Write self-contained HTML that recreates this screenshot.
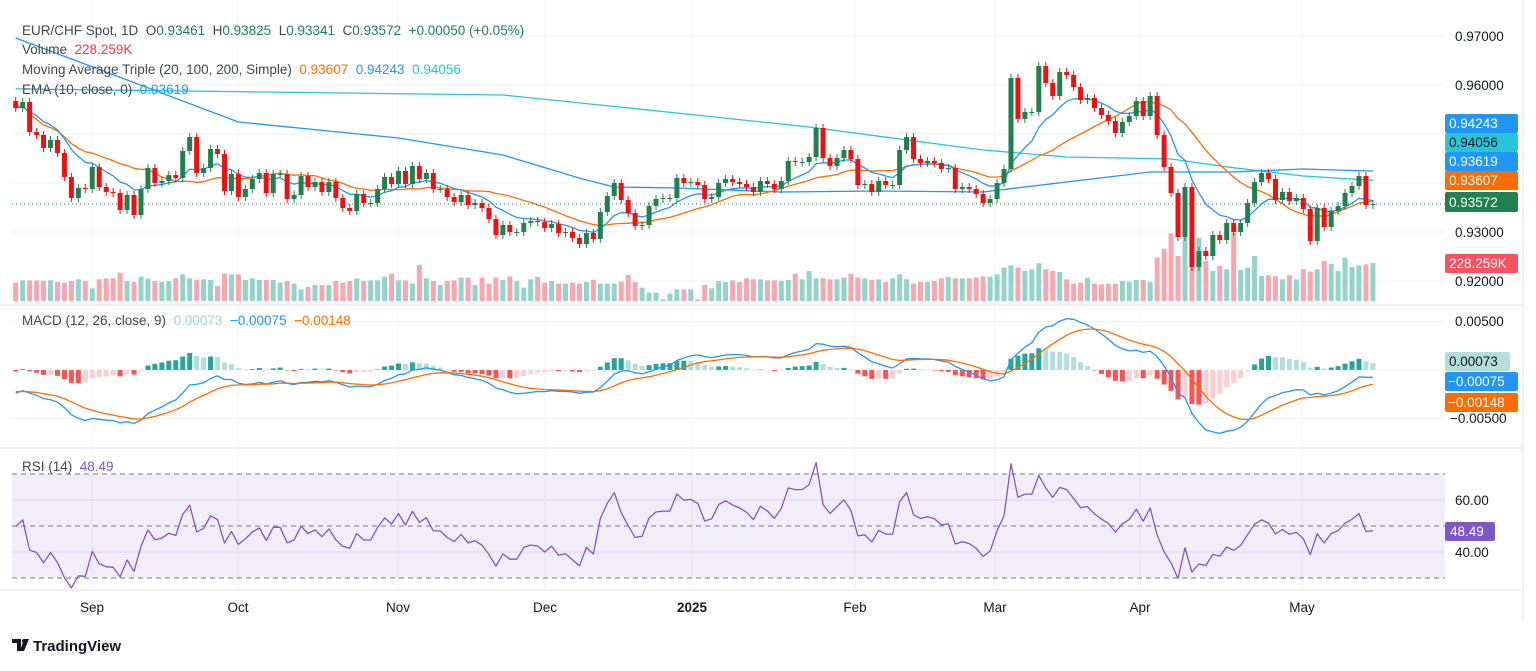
<!DOCTYPE html>
<html><head><meta charset="utf-8">
<style>
html,body{margin:0;padding:0;background:#fff;}
body{width:1536px;height:666px;overflow:hidden;font-family:"Liberation Sans",sans-serif;}
svg text{font-family:"Liberation Sans",sans-serif;}
</style></head>
<body>
<svg id="chart" width="1536" height="666" viewBox="0 0 1536 666" xmlns="http://www.w3.org/2000/svg">
  <rect x="0" y="0" width="1536" height="666" fill="#ffffff"/>
  <g id="grid"></g>
  <rect x="12" y="474" width="1433" height="104" fill="#7e57c2" fill-opacity="0.1"/>
  <line x1="12" y1="474" x2="1445" y2="474" stroke="#787b86" stroke-dasharray="5,4" stroke-width="1"/>
  <line x1="12" y1="526" x2="1445" y2="526" stroke="#787b86" stroke-dasharray="5,4" stroke-width="1"/>
  <line x1="12" y1="578" x2="1445" y2="578" stroke="#787b86" stroke-dasharray="5,4" stroke-width="1"/>
  <line x1="0" y1="305" x2="1523" y2="305" stroke="#e0e3eb"/>
  <line x1="0" y1="448" x2="1523" y2="448" stroke="#e0e3eb"/>
  <line x1="0" y1="590" x2="1523" y2="590" stroke="#e0e3eb"/>
  <line x1="1523" y1="0" x2="1523" y2="622" stroke="#e0e3eb"/>
  <g id="vol"></g>
  <g id="lines"></g>
  <g id="candles"></g>
  <g id="macd"></g>
  <g id="rsi"></g>

  <g font-size="13.5" fill="#434651">
    <text x="22" y="35">EUR/CHF Spot, 1D&#160;&#160;O<tspan fill="#22804f">0.93461</tspan>&#160;&#160;H<tspan fill="#22804f">0.93825</tspan>&#160;&#160;L<tspan fill="#22804f">0.93341</tspan>&#160;&#160;C<tspan fill="#22804f">0.93572</tspan>&#160;&#160;<tspan fill="#22804f">+0.00050 (+0.05%)</tspan></text>
    <text x="22" y="54">Volume&#160;&#160;<tspan fill="#f23645">228.259K</tspan></text>
    <text x="22" y="74">Moving Average Triple (20, 100, 200, Simple)&#160;&#160;<tspan fill="#ff6d00">0.93607</tspan>&#160;&#160;<tspan fill="#2196f3">0.94243</tspan>&#160;&#160;<tspan fill="#26c6da">0.94056</tspan></text>
    <text x="22" y="94">EMA (10, close, 0)&#160;&#160;<tspan fill="#2196f3">0.93619</tspan></text>
    <text x="22" y="325">MACD (12, 26, close, 9)&#160;&#160;<tspan fill="#9bd8cf">0.00073</tspan>&#160;&#160;<tspan fill="#2196f3">−0.00075</tspan>&#160;&#160;<tspan fill="#ff6d00">−0.00148</tspan></text>
    <text x="22" y="471">RSI (14)&#160;&#160;<tspan fill="#7e57c2">48.49</tspan></text>
  </g>

  <g font-size="13.5" fill="#131722">
    <text x="1455" y="41">0.97000</text>
    <text x="1455" y="90">0.96000</text>
    <text x="1455" y="237">0.93000</text>
    <text x="1455" y="286">0.92000</text>
    <text x="1455" y="326">0.00500</text>
    <text x="1450" y="423">−0.00500</text>
    <text x="1455" y="505">60.00</text>
    <text x="1455" y="557">40.00</text>
  </g>

  <g font-size="13.5">
    <rect x="1445" y="114" width="73" height="19" rx="2" fill="#2196f3"/>
    <text x="1449" y="128" fill="#fff">0.94243</text>
    <rect x="1445" y="133" width="73" height="19" rx="2" fill="#26c6da"/>
    <text x="1449" y="147" fill="#131722">0.94056</text>
    <rect x="1445" y="152" width="73" height="19" rx="2" fill="#2196f3"/>
    <text x="1449" y="166" fill="#fff">0.93619</text>
    <rect x="1445" y="171" width="73" height="19" rx="2" fill="#ff6d00"/>
    <text x="1449" y="185" fill="#fff">0.93607</text>
    <rect x="1445" y="192" width="73" height="20" rx="2" fill="#22804f"/>
    <text x="1449" y="207" fill="#fff">0.93572</text>
    <rect x="1445" y="254" width="73" height="19" rx="2" fill="#f7525f"/>
    <text x="1449" y="268" fill="#fff">228.259K</text>
    <rect x="1445" y="352" width="65" height="19" rx="2" fill="#b2dfdb"/>
    <text x="1449" y="366" fill="#131722">0.00073</text>
    <rect x="1445" y="372" width="73" height="19" rx="2" fill="#2196f3"/>
    <text x="1448" y="386" fill="#fff">−0.00075</text>
    <rect x="1445" y="393" width="73" height="19" rx="2" fill="#ff6d00"/>
    <text x="1448" y="407" fill="#fff">−0.00148</text>
    <rect x="1445" y="522" width="50" height="19" rx="2" fill="#7e57c2"/>
    <text x="1450" y="536" fill="#fff">48.49</text>
  </g>

  <g font-size="13.5" fill="#131722" text-anchor="middle">
    <text x="92" y="612">Sep</text>
    <text x="238" y="612">Oct</text>
    <text x="398" y="612">Nov</text>
    <text x="545" y="612">Dec</text>
    <text x="692" y="612" font-weight="bold">2025</text>
    <text x="855" y="612">Feb</text>
    <text x="995" y="612">Mar</text>
    <text x="1140" y="612">Apr</text>
    <text x="1302" y="612">May</text>
  </g>

  <g>
    <path d="M12 639 h9 v12 h-4 v-8 h-5 z M24 639 h5 l-5 12 h-4 z" fill="#131722"/>
    <circle cx="24" cy="641" r="2" fill="#131722"/>
    <text x="33" y="651" font-size="15" font-weight="bold" fill="#131722">TradingView</text>
  </g>
</svg>
<script>
// ---- data ----
const closes = [0.95531,0.95653,0.95041,0.94980,0.94714,0.94878,0.94612,0.94122,0.93694,0.93898,
0.93878,0.94327,0.93918,0.93816,0.93796,0.93449,0.93755,0.93347,0.93878,0.94306,
0.94000,0.94041,0.94163,0.94102,0.94653,0.94939,0.94204,0.94306,0.94694,0.94592,
0.93837,0.94184,0.93714,0.93878,0.94082,0.94204,0.93796,0.94184,0.94184,0.93673,
0.93755,0.94143,0.93918,0.94020,0.93816,0.94020,0.93694,0.93490,0.93429,0.93776,
0.93592,0.93592,0.93878,0.94122,0.93980,0.94245,0.93980,0.94347,0.94082,0.94204,
0.93878,0.93878,0.93714,0.93612,0.93755,0.93551,0.93592,0.93490,0.93265,0.92939,
0.93143,0.93000,0.93000,0.93184,0.93224,0.93204,0.93082,0.93163,0.92980,0.93000,
0.92878,0.92755,0.92980,0.92857,0.93408,0.93735,0.94000,0.93653,0.93388,0.93122,
0.93143,0.93531,0.93673,0.93694,0.93694,0.94102,0.94000,0.94020,0.93959,0.93673,
0.93714,0.94000,0.94082,0.94020,0.93980,0.93918,0.93816,0.94041,0.93980,0.93878,
0.94041,0.94449,0.94429,0.94429,0.94531,0.95122,0.94510,0.94347,0.94510,0.94673,
0.94490,0.93959,0.93980,0.93816,0.94041,0.93959,0.93959,0.94673,0.94939,0.94490,
0.94408,0.94449,0.94408,0.94286,0.94306,0.93878,0.93918,0.93878,0.93776,0.93592,
0.93673,0.94000,0.94286,0.96143,0.95306,0.95449,0.95449,0.96388,0.96041,0.95776,
0.96265,0.96204,0.95959,0.95694,0.95735,0.95531,0.95388,0.95265,0.95020,0.95245,
0.95367,0.95673,0.95367,0.95776,0.94980,0.94327,0.93796,0.92898,0.93918,0.92286,
0.92612,0.92510,0.92939,0.92837,0.93184,0.93000,0.93184,0.93592,0.94020,0.94204,
0.94082,0.93653,0.93816,0.93633,0.93694,0.93469,0.92816,0.93490,0.93102,0.93429,
0.93531,0.93796,0.93939,0.94143,0.93551,0.93572];
const firstOpen = 0.95673;
const volumesK = [110,124,124,124,120,124,114,110,120,130,120,76,130,136,136,170,120,114,146,134,
120,114,120,136,160,136,126,130,126,90,164,160,160,126,136,126,126,126,110,120,
104,70,84,96,96,96,120,110,120,136,120,124,124,146,164,124,124,104,216,136,
120,96,120,124,140,140,96,140,104,140,126,148,120,80,130,144,110,120,104,104,
110,104,114,126,104,104,104,116,156,114,80,50,50,10,44,70,70,70,10,96,
76,120,114,124,114,136,130,130,124,124,120,126,164,130,180,136,136,130,130,140,
164,140,136,126,130,114,136,160,130,104,114,114,120,136,144,136,136,136,140,146,
146,160,200,214,200,180,190,226,190,180,174,130,104,110,140,104,100,104,104,120,
116,126,126,116,260,314,406,270,390,340,380,240,180,210,190,410,186,200,270,150,
154,150,130,154,130,190,176,190,240,224,180,260,204,214,220,228];
const ma100Idx = [0,32,55,70,81,86,95,110,124,139,151,163,175,185,195];
const ma100Val = [0.9696,0.95245,0.94918,0.94571,0.9410,0.93918,0.93898,0.93816,0.93837,0.93816,0.9402,0.94224,0.94224,0.94286,0.94243];
const ma200Idx = [0,70,95,114,139,151,166,175,185,195];
const ma200Val = [0.9592,0.95796,0.95429,0.95143,0.94673,0.9453,0.9449,0.9431,0.94143,0.94056];
// initial indicator state (history before visible range)
const macdSeedFast = 0.9553, macdSeedSlow = 0.9579, signalSeed = -0.0022;
const rsiSeedGain = 0.0009, rsiSeedLoss = 0.0008;

// ---- axes ----
const NS = 'http://www.w3.org/2000/svg';
const xOf = i => 15.7 + i * 6.96;
const yP = p => 36 + (0.97 - p) * 4900;
const yVol = v => 301 - v / 6;
const yMacd = v => 370 - v * 9700;
const yRsi = v => 526 - (v - 50) * 2.6;
function mk(tag, attrs, parent) {
  const e = document.createElementNS(NS, tag);
  for (const k in attrs) e.setAttribute(k, attrs[k]);
  parent.appendChild(e);
  return e;
}
const opens = closes.map((c, i) => i === 0 ? firstOpen : closes[i - 1]);

// grid
const grid = document.getElementById('grid');
[0.97,0.96,0.95,0.94,0.93,0.92].forEach(p => {
  const g = mk('line', {x1:12,x2:1445,y1:yP(p),y2:yP(p),stroke:'#f0f3fa'}, grid);
  
  
});
[0.005,0,-0.005].forEach(v => {
  const g = mk('line', {x1:12,x2:1445,y1:yMacd(v),y2:yMacd(v),stroke:'#f0f3fa'}, grid);
  
  
});
[60,40].forEach(v => {
  const g = mk('line', {x1:12,x2:1445,y1:yRsi(v),y2:yRsi(v),stroke:'#e9e5f3'}, grid);
  
  
});
[92,238,398,545,692,855,995,1140,1302].forEach(x => {
  const g = mk('line', {x1:x,x2:x,y1:0,y2:590,stroke:'#f0f3fa'}, grid);
  
  
});

// volume
const volG = document.getElementById('vol');
volumesK.forEach((v, i) => {
  const up = closes[i] >= opens[i];
  const r = mk('rect', {x:xOf(i)-2.5,y:yVol(v),width:5,height:301-yVol(v),fill: up ? '#92d4c9' : '#f8a7ae'}, volG);
  
  
});

// indicators
const sma20 = closes.map((c, i) => { const s = closes.slice(Math.max(0, i - 19), i + 1); return s.reduce((a, b) => a + b, 0) / s.length; });
const ema10 = []; closes.forEach((c, i) => ema10.push(i === 0 ? c : ema10[i-1] + (2/11) * (c - ema10[i-1])));
const linesG = document.getElementById('lines');
function poly(pts, color, name, parent, w) {
  const p = mk('polyline', {points: pts.map(q => q[0].toFixed(1)+','+q[1].toFixed(1)).join(' '), fill:'none', stroke:color, 'stroke-width': w || 1.3, 'stroke-linejoin':'round'}, parent);
  
  
  return p;
}
poly(ma200Idx.map((k, j) => [xOf(k), yP(ma200Val[j])]), '#26c6da', 'sma200-line', linesG);
poly(ma100Idx.map((k, j) => [xOf(k), yP(ma100Val[j])]), '#2196f3', 'sma100-line', linesG);
poly(sma20.map((v, i) => [xOf(i), yP(v)]), '#ff6d00', 'sma20-line', linesG);
poly(ema10.map((v, i) => [xOf(i), yP(v)]), '#2196f3', 'ema10-line', linesG);
const lastLine = mk('line', {x1:12,x2:1445,y1:yP(closes[closes.length-1]),y2:yP(closes[closes.length-1]),stroke:'#22804f','stroke-dasharray':'1,3'}, linesG);



// candles
const cG = document.getElementById('candles');
closes.forEach((c, i) => {
  const o = opens[i], up = c >= o, col = up ? '#22804f' : '#ee1111';
  const top = yP(Math.max(o, c)), bot = yP(Math.min(o, c));
  const wk = mk('line', {x1:xOf(i),x2:xOf(i),y1:top-4,y2:bot+4,stroke:col,'stroke-width':1}, cG);
  
  
  const b = mk('rect', {x:xOf(i)-2.5,y:top,width:5,height:Math.max(1,bot-top),fill:col}, cG);
  
  
});

// MACD
let ef = macdSeedFast, es = macdSeedSlow, sig = signalSeed;
const macdL = [], sigL = [], hist = [];
closes.forEach(c => {
  ef += (2/13) * (c - ef); es += (2/27) * (c - es);
  const m = ef - es; sig += (2/10) * (m - sig);
  macdL.push(m); sigL.push(sig); hist.push(m - sig);
});
const mG = document.getElementById('macd');
hist.forEach((h, i) => {
  const prev = i > 0 ? hist[i-1] : h;
  const col = h >= 0 ? (h >= prev ? '#26a69a' : '#b2dfdb') : (h <= prev ? '#ff5252' : '#ffcdd2');
  const y0 = yMacd(0), y1 = yMacd(h);
  const r = mk('rect', {x:xOf(i)-2.5,y:Math.min(y0,y1),width:5,height:Math.max(0.5,Math.abs(y1-y0)),fill:col}, mG);
  
  
});
poly(macdL.map((v, i) => [xOf(i), yMacd(v)]), '#2196f3', 'macd-line', mG);
poly(sigL.map((v, i) => [xOf(i), yMacd(v)]), '#ff6d00', 'signal-line', mG);

// RSI
let ag = rsiSeedGain, al = rsiSeedLoss;
const rsiV = [];
closes.forEach((c, i) => {
  const d = i === 0 ? c - firstOpen : c - closes[i-1];
  ag = (ag * 13 + Math.max(d, 0)) / 14; al = (al * 13 + Math.max(-d, 0)) / 14;
  rsiV.push(100 - 100 / (1 + ag / al));
});
poly(rsiV.map((v, i) => [xOf(i), yRsi(v)]), '#7e57c2', 'rsi-line', document.getElementById('rsi'));
</script>
</body></html>
